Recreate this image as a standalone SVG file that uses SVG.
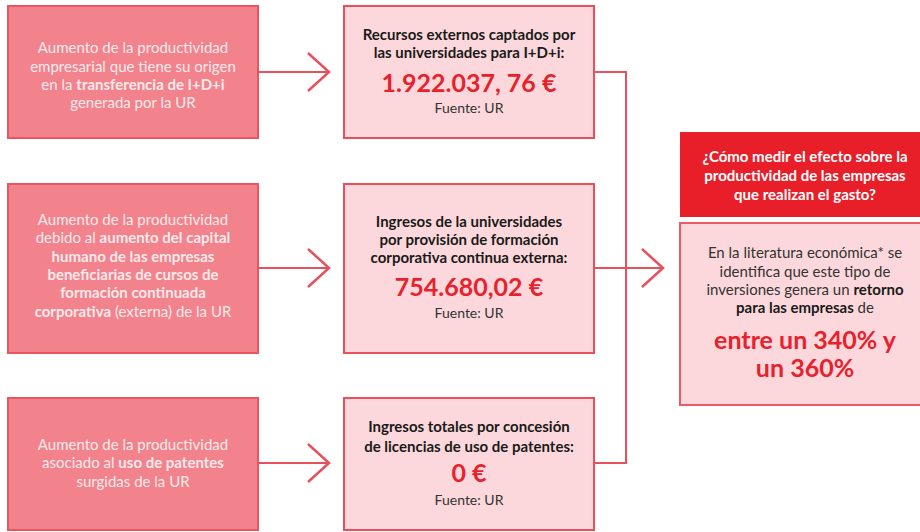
<svg xmlns="http://www.w3.org/2000/svg" width="920" height="532" viewBox="0 0 920 532">
<style>
.src rect{fill:#f2838c;stroke:#ea5561;stroke-width:2}
.src text{font-family:Lato,"Liberation Sans",sans-serif;font-size:15px;fill:#fde9eb;text-anchor:middle}
.mid rect{fill:#fcd8dc;stroke:#ea4f5b;stroke-width:2}
.t{font-family:Lato,"Liberation Sans",sans-serif;font-size:15px;font-weight:bold;fill:#1a1a1a;text-anchor:middle}
.v{font-family:Lato,"Liberation Sans",sans-serif;font-size:25px;font-weight:bold;fill:#e8212c;text-anchor:middle}
.f{font-family:Lato,"Liberation Sans",sans-serif;font-size:14px;fill:#333;text-anchor:middle}
.b{font-weight:bold}
.con{fill:none;stroke:#e8505b;stroke-width:2}
.head rect{fill:#e81f29}
.head text{font-family:Lato,"Liberation Sans",sans-serif;font-size:15px;font-weight:bold;fill:#fff;text-anchor:middle}
.res rect{fill:#fcd8dc;stroke:#ec5a65;stroke-width:2}
.res .n{font-family:Lato,"Liberation Sans",sans-serif;font-size:15px;fill:#333;text-anchor:middle}
.res .big{font-family:Lato,"Liberation Sans",sans-serif;font-size:25px;font-weight:bold;fill:#e8212c;text-anchor:middle}
</style>
<defs>
<marker id="chev" markerUnits="userSpaceOnUse" markerWidth="26" markerHeight="44" refX="23" refY="21" orient="auto">
<path d="M2,2 L23,21 L2,40" fill="none" stroke="#e8505b" stroke-width="2.5"/>
</marker>
</defs>

<g id="src1" class="src">
<rect x="8" y="6" width="250" height="132"/>
<text x="133" y="53">Aumento de la productividad</text>
<text x="133" y="72">empresarial que tiene su origen</text>
<text x="133" y="90">en la <tspan class="b">transferencia de I+D+i</tspan></text>
<text x="133" y="108">generada por la UR</text>
</g>
<g id="src2" class="src">
<rect x="8" y="184" width="250" height="169"/>
<text x="133" y="225">Aumento de la productividad</text>
<text x="133" y="243">debido al <tspan class="b">aumento del capital</tspan></text>
<text x="133" y="262" class="b">humano de las empresas</text>
<text x="133" y="280" class="b">beneficiarias de cursos de</text>
<text x="133" y="298" class="b">formación continuada</text>
<text x="133" y="317"><tspan class="b">corporativa</tspan> (externa) de la UR</text>
</g>
<g id="src3" class="src">
<rect x="8" y="398" width="250" height="132"/>
<text x="133" y="450">Aumento de la productividad</text>
<text x="133" y="468">asociado al <tspan class="b">uso de patentes</tspan></text>
<text x="133" y="487">surgidas de la UR</text>
</g>

<g id="mid1" class="mid">
<rect x="344" y="6" width="250" height="132"/>
<text class="t" x="469" y="40">Recursos externos captados por</text>
<text class="t" x="469" y="58">las universidades para I+D+i:</text>
<text class="v" x="469" y="92">1.922.037, 76 €</text>
<text class="f" x="469" y="113">Fuente: UR</text>
</g>
<g id="mid2" class="mid">
<rect x="344" y="184" width="250" height="169"/>
<text class="t" x="469" y="227">Ingresos de la universidades</text>
<text class="t" x="469" y="245">por provisión de formación</text>
<text class="t" x="469" y="263">corporativa continua externa:</text>
<text class="v" x="469" y="296">754.680,02 €</text>
<text class="f" x="469" y="318">Fuente: UR</text>
</g>
<g id="mid3" class="mid">
<rect x="344" y="398" width="250" height="132"/>
<text class="t" x="469" y="432">Ingresos totales por concesión</text>
<text class="t" x="469" y="452">de licencias de uso de patentes:</text>
<text class="v" x="469" y="482">0 €</text>
<text class="f" x="469" y="505">Fuente: UR</text>
</g>

<g id="question" class="head">
<rect x="680" y="132" width="250" height="85"/>
<text x="805" y="162">¿Cómo medir el efecto sobre la</text>
<text x="805" y="181">productividad de las empresas</text>
<text x="805" y="200">que realizan el gasto?</text>
</g>
<g id="result" class="res">
<rect x="680" y="223" width="250" height="182"/>
<text class="n" x="805" y="258">En la literatura económica* se</text>
<text class="n" x="805" y="277">identifica que este tipo de</text>
<text class="n" x="805" y="295">inversiones genera un <tspan class="b" fill="#1a1a1a">retorno</tspan></text>
<text class="n" x="805" y="313"><tspan class="b" fill="#1a1a1a">para las empresas</tspan> de</text>
<text class="big" x="805" y="349">entre un 340% y</text>
<text class="big" x="805" y="377">un 360%</text>
</g>

<g id="connectors" class="con">
<path d="M258,72 H329" marker-end="url(#chev)"/>
<path d="M258,268 H329" marker-end="url(#chev)"/>
<path d="M258,463 H329" marker-end="url(#chev)"/>
<path d="M594,72 H626 V463 H594"/>
<path d="M594,268 H663" marker-end="url(#chev)"/>
</g>
</svg>
